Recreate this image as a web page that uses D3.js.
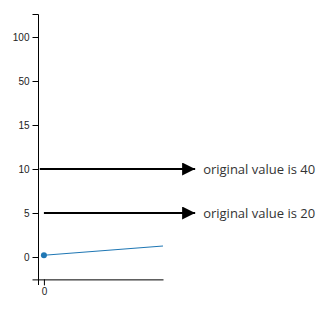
<!DOCTYPE html>
<html>
<head>
<meta charset="utf-8">
<script src="https://cdn.jsdelivr.net/npm/d3@7"></script>
<style>
  body { margin: 0; background: #fff; }
  svg { display: block; }
</style>
</head>
<body>
<div id="chart"></div>
<script>
// data
let xValues = [0, 1];
let yValues = [0.2, 1.25];
let yTicks = [0, 5, 10, 15, 50, 100];
let xTicks = [0];
let noteValues = [10, 5];
let noteStart = [-0.035, 0];
let noteLabels = ["original value is 40", "original value is 20"];

let width = 335, height = 311;

let svg = d3.select("#chart")
    .append("svg")
    .attr("width", width)
    .attr("height", height);

// x scale, axis starts just left of 0
let x = d3.scaleLinear()
    .domain([-0.1, 1])
    .range([32, 163]);

// piecewise y scale, even spacing between ticks
let y = d3.scaleLinear()
    .domain([-3.2, 0, 5, 10, 15, 50, 100, 126])
    .range([285, 257, 213, 169, 125, 81, 37, 14]);

// arrowhead
svg.append("defs").append("marker")
    .attr("id", "arrow")
    .attr("viewBox", "0 0 10 10")
    .attr("refX", 10)
    .attr("refY", 5)
    .attr("markerUnits", "userSpaceOnUse")
    .attr("markerWidth", 18)
    .attr("markerHeight", 13)
    .attr("orient", "auto")
  .append("path")
    .attr("d", "M0,0L10,5L0,10Z")
    .attr("fill", "#000");

// y axis
let yAxis = svg.append("g")
    .attr("transform", "translate(38.5,0)")
    .call(d3.axisLeft(y).tickValues(yTicks).tickSize(6));
yAxis.select(".domain")
    .attr("d", "M-6," + (y(126) + 0.5) + "H0V" + y(-3.2));

// x axis
let xAxis = svg.append("g")
    .attr("transform", "translate(0," + (y(-2.5) + 0.5) + ")")
    .call(d3.axisBottom(x).tickValues(xTicks).tickFormat(d3.format("d")).tickSizeOuter(0));

svg.selectAll(".tick text").attr("fill", "#222");

// annotation arrows
let notes = noteValues.map(function(v, i) {
    return { v: v, x0: noteStart[i], label: noteLabels[i] };
});

svg.selectAll(".note-line")
    .data(notes)
  .enter().append("line")
    .attr("class", "note-line")
    .attr("x1", function(d) { return x(d.x0); })
    .attr("x2", x(1.27))
    .attr("y1", function(d) { return y(d.v); })
    .attr("y2", function(d) { return y(d.v); })
    .attr("stroke", "#000")
    .attr("stroke-width", 2)
    .attr("marker-end", "url(#arrow)");

svg.selectAll(".note-text")
    .data(notes)
  .enter().append("text")
    .attr("class", "note-text")
    .attr("x", x(1.27) + 8)
    .attr("y", function(d) { return y(d.v); })
    .attr("dy", "0.35em")
    .attr("font-family", "Open Sans, sans-serif")
    .attr("font-size", "13px")
    .attr("fill", "#333")
    .text(function(d) { return d.label; });

// data line
let points = xValues.map(function(v, i) { return [v, yValues[i]]; });

svg.append("path")
    .datum(points)
    .attr("fill", "none")
    .attr("stroke", "#1f77b4")
    .attr("stroke-width", 1.2)
    .attr("d", d3.line()
        .x(function(d) { return x(d[0]); })
        .y(function(d) { return y(d[1]); }));

svg.append("circle")
    .attr("cx", x(points[0][0]))
    .attr("cy", y(points[0][1]))
    .attr("r", 3)
    .attr("fill", "#1f77b4");
</script>
</body>
</html>
